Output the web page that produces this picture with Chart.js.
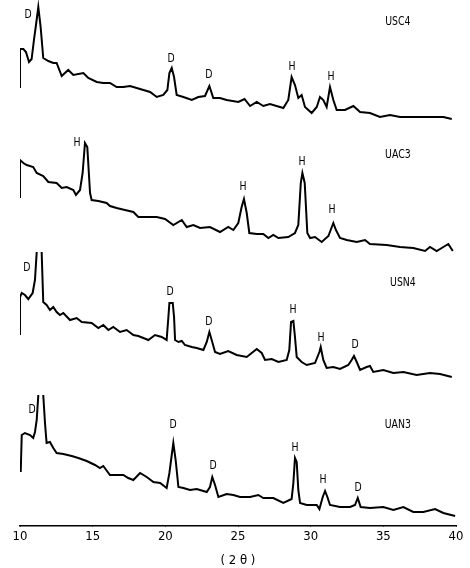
<!DOCTYPE html>
<html lang="en">
<head>
    <meta charset="UTF-8">
    <title>XRD patterns</title>
    <script src="https://cdn.jsdelivr.net/npm/chart.js"></script>
    <style>
        body { margin: 0; background: #fff; }
        canvas { display: block; }
    </style>
</head>
<body>
    <canvas id="xrdChart" width="470" height="568"></canvas>

    <script>
        // [2theta, intensity] (null = peak off scale)
        const usc4 = [[10.0,37],[10.0,76],[10.23,76],[10.41,73],[10.62,63],[10.80,66],[10.96,85],[11.10,100],[11.26,118],[11.42,98],
            [11.60,67],[11.95,64],[12.29,62],[12.52,62],[12.87,49],[13.32,55],[13.67,50],[14.36,52],[14.70,47],[15.28,43],
            [15.73,42],[16.19,42],[16.65,38],[17.11,38],[17.57,39],[18.03,37],[18.49,35],[18.95,33],[19.41,28],[19.86,30],
            [20.14,35],[20.28,52],[20.44,57],[20.60,48],[20.78,30],[21.24,28],[21.82,25],[22.27,28],[22.73,29],[23.03,39],
            [23.30,27],[23.76,27],[24.22,25],[25.02,23],[25.45,26],[25.83,19],[26.29,23],[26.74,19],[27.20,21],[28.12,17],
            [28.46,25],[28.69,48],[28.92,40],[29.15,27],[29.38,30],[29.61,18],[30.07,12],[30.42,18],[30.64,28],[30.87,25],
            [31.10,18],[31.33,38],[31.56,25],[31.79,15],[32.36,15],[32.94,19],[33.40,13],[34.08,12],[34.77,8],[35.46,10],
            [36.15,8],[37.06,8],[38.21,8],[39.13,8],[39.71,6]];
        const uac3 = [[10.0,57],[10.0,95],[10.23,92],[10.46,90],[10.91,88],[11.15,82],[11.60,79],[11.95,73],[12.52,72],[12.87,67],
            [13.21,68],[13.67,65],[13.85,60],[14.13,65],[14.31,82],[14.47,112],[14.63,108],[14.82,62],[14.93,55],[15.39,54],
            [15.96,52],[16.19,49],[16.65,47],[17.22,45],[17.80,43],[18.14,38],[18.72,38],[18.95,38],[19.41,38],[19.98,36],
            [20.55,30],[21.13,35],[21.47,28],[21.93,30],[22.39,27],[23.07,28],[23.76,23],[24.33,28],[24.68,25],[25.02,32],
            [25.25,48],[25.41,56],[25.60,42],[25.78,22],[26.29,21],[26.74,21],[27.09,17],[27.43,20],[27.78,17],[28.46,18],
            [28.92,22],[29.15,30],[29.32,72],[29.43,82],[29.59,72],[29.77,22],[29.96,17],[30.30,18],[30.76,13],[31.22,19],
            [31.56,32],[31.74,25],[32.02,17],[32.48,15],[33.17,13],[33.74,15],[34.08,11],[35.23,10],[36.15,8],[37.06,7],
            [37.87,4],[38.21,8],[38.67,4],[39.13,8],[39.47,11],[39.78,4]];
        const usn4 = [[10.0,50],[10.0,88],[10.12,92],[10.34,90],[10.57,86],[10.87,92],[11.03,105],[11.15,133],[11.3,null],[11.49,133],
            [11.60,83],[11.83,80],[12.06,75],[12.29,78],[12.52,73],[12.75,70],[12.98,72],[13.44,65],[13.90,67],[14.25,63],
            [14.93,62],[15.39,57],[15.73,60],[16.08,55],[16.42,58],[16.88,53],[17.34,55],[17.80,50],[18.14,49],[18.49,47],
            [18.83,45],[19.29,50],[19.75,48],[20.09,45],[20.21,68],[20.28,82],[20.51,82],[20.60,68],[20.67,45],[20.90,43],
            [21.13,44],[21.35,40],[21.82,38],[22.16,37],[22.62,35],[22.85,43],[23.03,53],[23.19,45],[23.42,33],[23.76,31],
            [24.33,34],[24.91,30],[25.60,28],[26.29,36],[26.63,32],[26.86,25],[27.32,26],[27.78,23],[28.35,25],[28.53,35],
            [28.65,63],[28.81,64],[28.92,48],[29.04,28],[29.38,23],[29.73,20],[30.30,22],[30.60,33],[30.69,38],[30.87,25],
            [31.10,17],[31.56,18],[32.02,16],[32.59,20],[32.82,25],[32.98,29],[33.17,23],[33.40,15],[33.85,18],[34.08,19],
            [34.31,13],[35.00,15],[35.69,12],[36.38,13],[37.29,10],[38.21,12],[38.90,11],[39.71,8]];
        const uan3 = [[10.05,54],[10.12,91],[10.34,93],[10.69,91],[10.91,88],[11.03,94],[11.15,106],[11.26,131],[11.43,null],[11.60,131],
            [11.72,103],[11.83,83],[12.06,84],[12.29,78],[12.52,73],[12.98,72],[13.56,70],[14.01,68],[14.59,65],[15.16,61],
            [15.50,58],[15.73,60],[16.19,51],[16.65,51],[17.11,51],[17.45,48],[17.80,46],[18.26,53],[18.72,49],[19.18,44],
            [19.64,43],[20.09,38],[20.28,53],[20.44,71],[20.55,83],[20.71,66],[20.90,39],[21.24,38],[21.70,36],[22.16,37],
            [22.85,34],[23.07,39],[23.23,49],[23.42,41],[23.65,29],[24.22,32],[24.68,31],[25.14,29],[25.83,29],[26.40,31],
            [26.74,28],[27.43,28],[28.12,23],[28.69,27],[28.81,43],[28.92,68],[29.04,64],[29.15,36],[29.27,23],[29.73,21],
            [30.42,21],[30.60,17],[30.83,29],[30.99,35],[31.15,29],[31.33,21],[32.02,19],[32.71,19],[33.05,21],[33.24,28],
            [33.44,19],[34.08,18],[35.00,19],[35.69,16],[36.38,19],[37.06,14],[37.75,14],[38.56,17],[39.13,13],[39.94,10]];

        const sampleNames = ["USC4", "UAC3", "USN4", "UAN3"];
        const traceOffsets = [401, 271, 141, 0];   // vertical stacking of the patterns
        const xTicks = [10, 15, 20, 25, 30, 35, 40];

        // peak letters: [letter, 2theta, intensity]
        const peaks1 = [["D",10.55,110],["D",20.39,66],["D",23.0,50],["H",28.72,58],["H",31.40,48]];
        const peaks2 = [["H",13.92,112],["H",25.35,68],["H",29.40,93],["H",31.47,45]];
        const peaks3 = [["D",10.48,117],["D",20.32,93],["D",23.0,63],["H",28.79,75],["H",30.71,47],["D",33.05,40]];
        const peaks4 = [["D",10.83,116],["D",20.53,101],["D",23.28,60],["H",28.92,78],["H",30.85,46],["D",33.26,38]];
        const namePos = [[36.0,103],[36.0,100],[36.35,102],[36.0,101]];

        const traces = [usc4, uac3, usn4, uan3];
        const peakSets = [peaks1, peaks2, peaks3, peaks4];
        const FONT = '"DejaVu Sans Condensed", "Liberation Sans Narrow", "DejaVu Sans", sans-serif';

        const labelPlugin = {
            id: "peakLabels",
            afterDatasetsDraw(chart) {
                const ctx = chart.ctx;
                const xs = chart.scales.x, ys = chart.scales.y;
                ctx.save();
                ctx.fillStyle = "#000";
                ctx.textAlign = "center";
                ctx.textBaseline = "middle";
                const put = (txt, t, v, size) => {
                    ctx.save();
                    ctx.translate(xs.getPixelForValue(t), ys.getPixelForValue(v));
                    ctx.scale(0.8, 1);
                    ctx.font = size + "px " + FONT;
                    ctx.fillText(txt, 0, 0);
                    ctx.restore();
                };
                peakSets.forEach((set, i) => {
                    set.forEach(p => put(p[0], p[1], p[2] + traceOffsets[i], 13));
                    put(sampleNames[i], namePos[i][0], namePos[i][1] + traceOffsets[i], 13);
                });
                ctx.restore();
            }
        };

        new Chart(document.getElementById("xrdChart"), {
            type: "line",
            data: {
                datasets: traces.map((tr, i) => ({
                    label: sampleNames[i],
                    data: tr.map(p => ({ x: p[0], y: p[1] === null ? null : p[1] + traceOffsets[i] })),
                    borderColor: "#000",
                    borderWidth: 2,
                    pointRadius: 0,
                    tension: 0,
                    spanGaps: false
                }))
            },
            options: {
                responsive: false,
                animation: false,
                layout: { padding: { left: 20, right: 14, top: 0, bottom: 0 } },
                plugins: { legend: { display: false }, tooltip: { enabled: false } },
                scales: {
                    x: {
                        type: "linear",
                        min: 10,
                        max: 40,
                        afterBuildTicks: s => { s.ticks = xTicks.map(v => ({ value: v })); },
                        afterFit: s => { s.height = 42; },
                        grid: { display: true, drawOnChartArea: false, tickLength: 0, color: "#000" },
                        border: { display: true, color: "#000", width: 1.5 },
                        ticks: { color: "#000", padding: 3, maxRotation: 0, font: { family: FONT, size: 13 } },
                        title: {
                            display: true,
                            text: "( 2 θ )",
                            color: "#000",
                            padding: { top: 4, bottom: 0 },
                            font: { family: FONT, size: 13 }
                        }
                    },
                    y: { display: false, min: 0, max: 526 }
                }
            },
            plugins: [labelPlugin]
        });
    </script>
</body>
</html>
